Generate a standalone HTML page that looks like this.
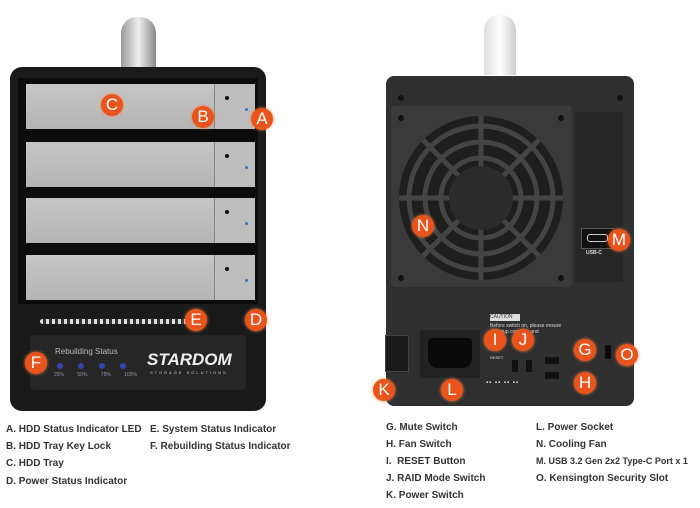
<!DOCTYPE html>
<html><head><meta charset="utf-8"><style>
body{margin:0;width:700px;height:508px;background:#fff;position:relative;overflow:hidden;font-family:"Liberation Sans",sans-serif}
.a{position:absolute}
.c{position:absolute;width:22px;height:22px;border-radius:50%;background:#e8541c;color:#fff;font-size:17px;line-height:22px;text-align:center;font-family:"Liberation Sans",sans-serif;box-shadow:0 0 3px #f08040}
.t{position:absolute;font-size:10px;font-weight:bold;color:#333;white-space:nowrap}
.tray{position:absolute;left:26px;width:229px;height:45px;background:linear-gradient(#c6c6c6,#b4b4b4)}
.key{position:absolute;right:0;top:0;width:40px;height:100%;border-left:1px solid #888;background:#bdbdbd}
.key:before{content:"";position:absolute;left:10px;top:12px;width:4px;height:4px;border-radius:50%;background:#111}
.key:after{content:"";position:absolute;left:30px;top:24px;width:3px;height:3px;border-radius:50%;background:#3a6fd0}
.scr{position:absolute;width:6px;height:6px;border-radius:50%;background:#111}
</style></head><body>
<!-- left device -->
<div class="a" style="left:121px;top:17px;width:35px;height:55px;border-radius:16px 16px 0 0;background:linear-gradient(90deg,#999,#eee,#888)"></div>
<div class="a" style="left:10px;top:67px;width:256px;height:344px;border-radius:12px;background:#1a1a1a"></div>
<div class="a" style="left:18px;top:78px;width:240px;height:226px;background:#0c0c0c"></div>
<div class="tray" style="top:84px"><div class="key"></div></div>
<div class="tray" style="top:142px"><div class="key"></div></div>
<div class="tray" style="top:198px"><div class="key"></div></div>
<div class="tray" style="top:255px"><div class="key"></div></div>
<div class="a" style="left:40px;top:319px;width:150px;height:5px;background:repeating-linear-gradient(90deg,#ddd 0 3px,#333 3px 6px);border-radius:3px"></div>
<div class="a" style="left:30px;top:335px;width:216px;height:55px;border-radius:4px;background:#262626"></div>
<div class="a" style="left:55px;top:347px;font-size:8px;color:#bbb">Rebuilding Status</div>
<div class="a" style="left:57px;top:363px;width:6px;height:6px;border-radius:50%;background:#34a"></div>
<div class="a" style="left:78px;top:363px;width:6px;height:6px;border-radius:50%;background:#34a"></div>
<div class="a" style="left:99px;top:363px;width:6px;height:6px;border-radius:50%;background:#34a"></div>
<div class="a" style="left:120px;top:363px;width:6px;height:6px;border-radius:50%;background:#34a"></div>
<div class="a" style="left:54px;top:372px;font-size:5px;color:#99a;word-spacing:12px">25% 50% 75% 100%</div>
<div class="a" style="left:147px;top:350px;font-size:17px;font-weight:bold;font-style:italic;color:#eee">STARDOM</div>
<div class="a" style="left:150px;top:370px;font-size:4px;color:#ccc;letter-spacing:2px">STORAGE SOLUTIONS</div>
<div class="c" style="left:101px;top:94px">C</div>
<div class="c" style="left:192px;top:106px">B</div>
<div class="c" style="left:251px;top:108px">A</div>
<div class="c" style="left:185px;top:309px">E</div>
<div class="c" style="left:245px;top:309px">D</div>
<div class="c" style="left:25px;top:352px">F</div>
<div class="t" style="left:6px;top:424px">A. HDD Status Indicator LED</div>
<div class="t" style="left:6px;top:441px">B. HDD Tray Key Lock</div>
<div class="t" style="left:6px;top:458px">C. HDD Tray</div>
<div class="t" style="left:6px;top:476px">D. Power Status Indicator</div>
<div class="t" style="left:150px;top:424px">E. System Status Indicator</div>
<div class="t" style="left:150px;top:441px">F. Rebuilding Status Indicator</div>
<!-- right device -->
<div class="a" style="left:484px;top:15px;width:32px;height:60px;border-radius:15px 15px 0 0;background:linear-gradient(90deg,#ddd,#fff,#ccc)"></div>
<div class="a" style="left:386px;top:76px;width:248px;height:330px;border-radius:8px;background:#2f2f2f"></div>
<div class="a" style="left:391px;top:106px;width:181px;height:181px;border-radius:4px;background:#3a3a3a"></div>
<svg class="a" style="left:391px;top:106px" width="181" height="181">
<circle cx="90" cy="92" r="82" fill="#1e1e1e"/>
<g fill="none" stroke="#444" stroke-width="5">
<circle cx="90" cy="92" r="72"/><circle cx="90" cy="92" r="56"/><circle cx="90" cy="92" r="40"/>
<line x1="90" y1="10" x2="90" y2="174"/><line x1="8" y1="92" x2="172" y2="92"/>
<line x1="32" y1="34" x2="148" y2="150"/><line x1="148" y1="34" x2="32" y2="150"/></g>
<circle cx="90" cy="92" r="32" fill="#2c2c2c"/>
<circle cx="10" cy="12" r="3" fill="#111"/><circle cx="170" cy="12" r="3" fill="#111"/><circle cx="10" cy="172" r="3" fill="#111"/><circle cx="170" cy="172" r="3" fill="#111"/>
</svg>
<div class="a" style="left:575px;top:112px;width:48px;height:170px;background:#262626"></div>
<div class="a" style="left:581px;top:228px;width:31px;height:19px;background:#111;border:1px solid #555"></div>
<div class="a" style="left:587px;top:234px;width:19px;height:6px;border-radius:3px;border:1px solid #ccc"></div>
<div class="a" style="left:586px;top:250px;font-size:5px;font-weight:bold;color:#ddd">USB-C</div>
<div class="scr" style="left:398px;top:95px"></div><div class="scr" style="left:617px;top:95px"></div>
<div class="a" style="left:385px;top:335px;width:22px;height:35px;background:#1a1a1a;border:1px solid #444"></div>
<div class="a" style="left:420px;top:330px;width:60px;height:48px;background:#222"></div>
<div class="a" style="left:428px;top:338px;width:44px;height:30px;border-radius:4px 4px 10px 10px;background:#0a0a0a"></div>
<div class="a" style="left:490px;top:314px;width:30px;height:7px;background:#ddd;font-size:5px;color:#333">CAUTION</div>
<div class="a" style="left:490px;top:323px;font-size:5px;color:#ddd;line-height:6px">Before switch on, please ensure<br>all setup correctly and</div>
<div class="a" style="left:490px;top:355px;font-size:4px;color:#ddd">RESET</div>
<div class="a" style="left:512px;top:360px;width:6px;height:12px;background:#111"></div>
<div class="a" style="left:526px;top:360px;width:6px;height:12px;background:#111"></div>
<div class="a" style="left:545px;top:357px;width:14px;height:7px;background:#111"></div>
<div class="a" style="left:545px;top:372px;width:14px;height:7px;background:#111"></div>
<div class="a" style="left:486px;top:380px;font-size:6px;color:#eee;letter-spacing:1px">▪▪ ▪▪ ▪▪ ▪▪</div>
<div class="a" style="left:605px;top:345px;width:6px;height:14px;background:#0a0a0a;border-radius:2px"></div>
<div class="c" style="left:412px;top:215px">N</div>
<div class="c" style="left:608px;top:229px">M</div>
<div class="c" style="left:484px;top:329px">I</div>
<div class="c" style="left:512px;top:329px">J</div>
<div class="c" style="left:574px;top:339px">G</div>
<div class="c" style="left:616px;top:344px">O</div>
<div class="c" style="left:373px;top:379px">K</div>
<div class="c" style="left:441px;top:379px">L</div>
<div class="c" style="left:574px;top:372px">H</div>
<div class="t" style="left:386px;top:422px">G. Mute Switch</div>
<div class="t" style="left:386px;top:439px">H. Fan Switch</div>
<div class="t" style="left:386px;top:456px">I.&nbsp; RESET Button</div>
<div class="t" style="left:386px;top:473px">J. RAID Mode Switch</div>
<div class="t" style="left:386px;top:490px">K. Power Switch</div>
<div class="t" style="left:536px;top:422px">L. Power Socket</div>
<div class="t" style="left:536px;top:439px">N. Cooling Fan</div>
<div class="t" style="left:536px;top:456px;font-size:9px">M. USB 3.2 Gen 2x2 Type-C Port x 1</div>
<div class="t" style="left:536px;top:473px">O. Kensington Security Slot</div>
</body></html>
